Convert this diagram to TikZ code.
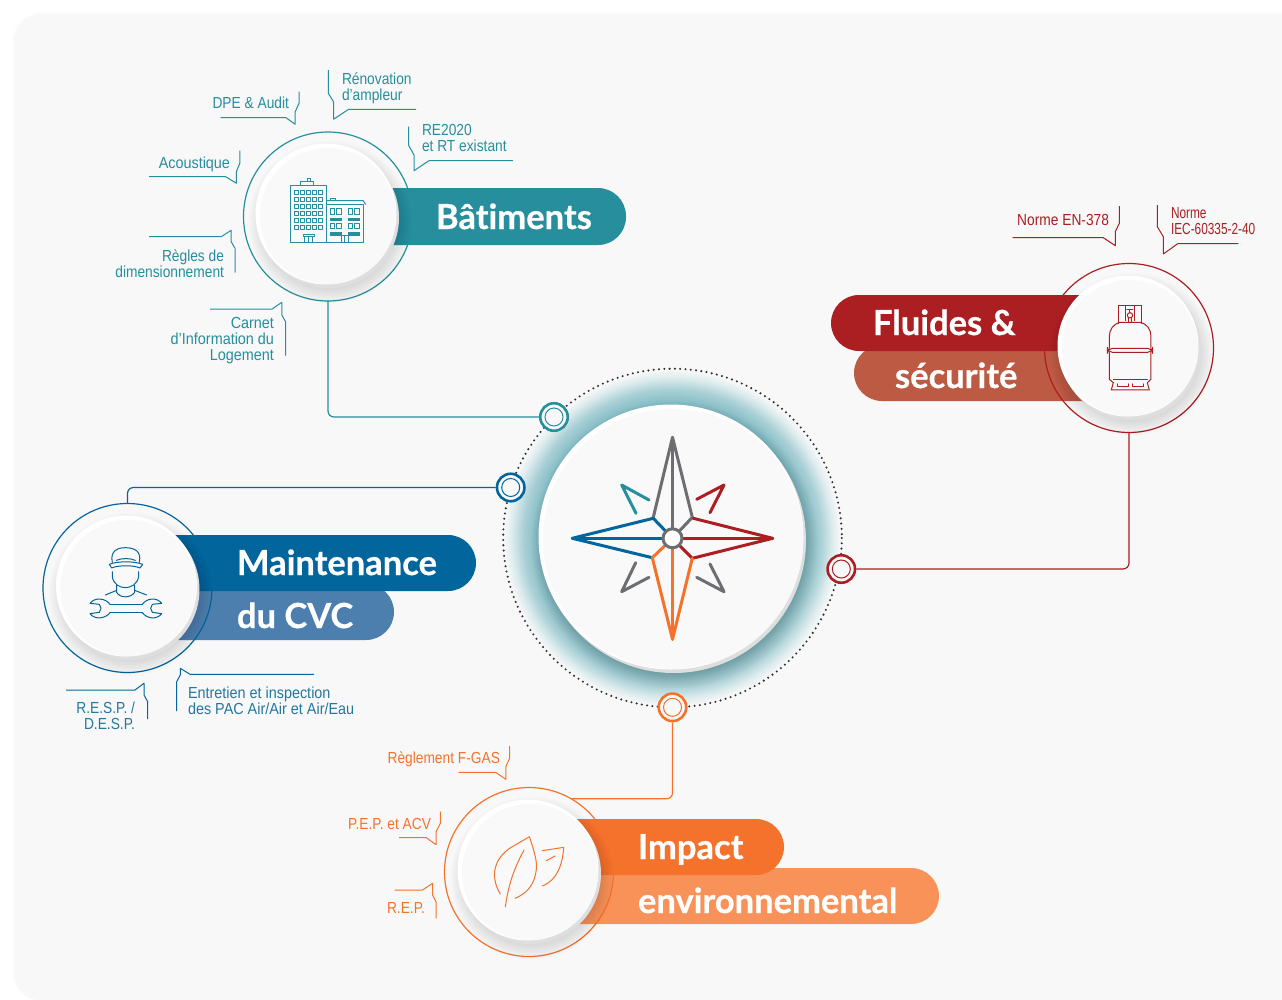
\documentclass[tikz,border=0pt]{standalone}
\usepackage{fontspec}
\setmainfont{Liberation Sans}
\newfontfamily\labfont[FakeStretch=0.86]{Liberation Sans}
\newfontfamily\labwide[FakeStretch=0.9]{Liberation Sans}
\newfontfamily\labtight[FakeStretch=0.74]{Liberation Sans}
\newfontfamily\headfont[BoldFeatures={FakeBold=0.6},Ligatures=NoCommon]{Lato}
\definecolor{pagebg}{HTML}{F8F8F8}
\definecolor{discbg}{HTML}{F9F9F9}
\definecolor{cteal}{HTML}{268E9D}
\definecolor{cred}{HTML}{AB1E22}
\definecolor{credl}{HTML}{BD5A44}
\definecolor{cblue}{HTML}{02659B}
\definecolor{cbluet}{HTML}{24779F}
\definecolor{cbluel}{HTML}{4D7FAE}
\definecolor{corange}{HTML}{F4722C}
\definecolor{corangel}{HTML}{F89259}
\definecolor{cgray}{HTML}{6D6E71}
\definecolor{glowa}{HTML}{7DB8C1}
\definecolor{glowb}{HTML}{A9D0D6}
\definecolor{glowc}{HTML}{DCEBED}
\pgfdeclareradialshading{hubglow}{\pgfpoint{0cm}{0cm}}{%
 color(0bp)=(glowa);color(19.6bp)=(glowa);color(22bp)=(glowb);color(23.7bp)=(glowc);color(24.9bp)=(pagebg);color(50bp)=(pagebg)}
\newcommand{\softdisc}[4]{%
 \foreach \i in {0,...,9}{\fill[black,opacity=0.012] ({#2+3},{#3+7}) circle ({#4+11-1.5*\i});}
 \fill[black!13] ({#2+1.5},{#3+2.5}) circle (#4);
 \fill[white] ({#2-1},{#3-1}) circle (#4);
 \node[discnode,minimum size={2*(#4)-5}] (#1) at ({#2+1},{#3+1}) {};
}
\tikzset{
 x=1pt,y=-1pt,
 discnode/.style={circle,fill=discbg,inner sep=0pt,outer sep=0pt},
 halo/.style={circle,draw=#1,line width=1.2pt,inner sep=0pt,outer sep=0pt,minimum size=169pt},
 hubring/.style={circle,draw=#1,fill=pagebg,line width=2.6pt,inner sep=0pt,outer sep=1.3pt,minimum size=27.5pt,
   path picture={\draw[#1,line width=1pt] (path picture bounding box.center) circle (9pt);}},
 link/.style={draw=#1,line width=1.2pt,rounded corners=6pt},
 callout/.style={draw=#1,line width=1pt,line join=round},
 lab/.style={font=\labfont\fontsize{16}{16}\selectfont,inner sep=0pt,outer sep=0pt,text=#1},
 labw/.style={font=\labwide\fontsize{16}{16}\selectfont,inner sep=0pt,outer sep=0pt,text=#1},
 labt/.style={font=\labtight\fontsize{16}{16}\selectfont,inner sep=0pt,outer sep=0pt,text=#1},
 head/.style={font=\headfont\bfseries\fontsize{34.5}{36}\selectfont,inner sep=0pt,outer sep=0pt,text=white,anchor=base west},
 rose/.style={draw=#1,line width=3pt,line join=round,line cap=round},
 icon/.style={draw=#1,line width=1pt,line join=round,line cap=round},
}
\begin{document}
\begin{tikzpicture}
\useasboundingbox (0,0) rectangle (1282,999);
% sheet
\fill[white] (0,0) rectangle (1282,999);
\fill[black!1.5,rounded corners=30pt] (12.5,12.5) rectangle (1320,1001);
\fill[pagebg,rounded corners=28pt] (14,14) rectangle (1320,1000);

% ---------- central hub
\shade[shading=hubglow] (672,538) circle (169);
\draw[cgray!45!black,line width=2.3pt,line cap=round,dash pattern=on 0pt off 5.3pt] (672.5,538) circle (169.3);
\softdisc{hubdisc}{672}{538}{132.5}

% compass
\draw[rose=cteal] (636,513.3) -- (621.7,485) -- (649,500);
\draw[rose=cred] (696.7,499.3) -- (724,485) -- (710,512.7);
\draw[rose=cgray] (635.7,562.7) -- (621.7,591.7) -- (649,577.3);
\draw[rose=cgray] (710,564) -- (724,591.7) -- (696.7,577.3);
\coordinate (rc) at (672.5,538.3);
\draw[rose=cgray] (rc) -- (672.5,437.3);
\draw[rose=cgray] (653.3,517.3) -- (672.5,437.3) -- (692.3,517.3) -- (rc);
\draw[rose=cblue] (rc) -- (572.3,538.3);
\draw[rose=cblue] (rc) -- (653.3,518.3) -- (572.3,538.3) -- (652.3,557.7);
\draw[rose=cred] (rc) -- (772.7,538.3);
\draw[rose=cred] (693.3,518.3) -- (772.7,538.3) -- (692.3,558.3) -- (rc);
\draw[rose=corange] (rc) -- (672.5,639.3);
\draw[rose=corange] (rc) -- (652.3,557.7) -- (672.5,639.3) -- (692.3,558.3);
\node[circle,draw=cgray,fill=white,line width=3pt,minimum size=19pt,inner sep=0pt] (rosehub) at (rc) {};

% hub rings
\node[hubring=cteal] (ringteal) at (554,417) {};
\node[hubring=cblue] (ringblue) at (510.7,487.5) {};
\node[hubring=cred] (ringred) at (841.3,569) {};
\node[hubring=corange] (ringorange) at (672.5,707.3) {};

% ---------- Batiments
\node[halo=cteal] (batring) at (328,216.5) {};
\fill[cteal,rounded corners=28pt] (327,188) rectangle (626,245);
\softdisc{batdisc}{327}{215}{70.5}
\node[head] (batlab) at (436,229) {Bâtiments};
\draw[link=cteal] (batring.south) |- (ringteal.west);

% ---------- Fluides
\fill[credl,rounded corners=28pt] (854,345) rectangle (1129,401);
\node[halo=cred] (fluring) at (1129,348) {};
\fill[cred,rounded corners=28pt] (831,295) rectangle (1129,351);
\softdisc{fludisc}{1129}{347}{70.5}
\node[head] (flulaba) at (873,335) {Fluides \&};
\node[head] (flulabb) at (895,388) {sécurité};
\draw[link=cred] (ringred.east) -| (fluring.south);

% ---------- Maintenance
\fill[cbluel,rounded corners=28pt] (127,584) rectangle (394,640);
\node[halo=cblue] (mairing) at (127.5,588) {};
\fill[cblue,rounded corners=28pt] (127,535) rectangle (476,591);
\softdisc{maidisc}{127.5}{587}{70.5}
\node[head] (mailaba) at (237,575) {Maintenance};
\node[head] (mailabb) at (237,628) {du CVC};
\draw[link=cblue] (mairing.north) |- (ringblue.west);

% ---------- Impact
\fill[corangel,rounded corners=28pt] (529,868) rectangle (939,924);
\node[halo=corange] (impring) at (529,872) {};
\fill[corange,rounded corners=28pt] (529,819) rectangle (784,875);
\softdisc{impdisc}{529}{871}{70.5}
\node[head] (implaba) at (638,859) {Impact};
\node[head] (implabb) at (638,913) {environnemental};
\draw[link=corange] (ringorange.south) |- (impring.60);

% ---------- callouts teal
\draw[callout=cteal] (220.5,117.7) -- (286,117.7) -- (295.2,124.3) -- (295.2,111.7) -- (299,103.3) -- (299,91.7);
\node[lab=cteal,anchor=base east] (tdpe) at (289,108.5) {DPE \& Audit};
\draw[callout=cteal] (328.3,70) -- (328.3,93.3) -- (333.5,101.7) -- (333.5,119.3) -- (348.6,109.3) -- (416,109.3);
\node[lab=cteal,anchor=west,align=left] (treno) at (342,88.5) {Rénovation\\d’ampleur};
\draw[callout=cteal] (408.5,126.7) -- (408.5,145) -- (414,155) -- (414,170.7) -- (428.9,160.7) -- (512.9,160.7);
\node[lab=cteal,anchor=west,align=left] (tre) at (422,138) {RE2020\\et RT existant};
\draw[callout=cteal] (149.2,176.7) -- (225.7,176.7) -- (236.4,183.3) -- (236.4,171.7) -- (239.8,163.3) -- (239.8,150.7);
\node[labw=cteal,anchor=base east] (taco) at (230,168.5) {Acoustique};
\draw[callout=cteal] (149.2,236.7) -- (221.2,236.7) -- (231.2,230.3) -- (231.2,241.7) -- (235,248.3) -- (235,272.7);
\node[lab=cteal,anchor=east,align=right] (tregl) at (224,264) {Règles de\\dimensionnement};
\draw[callout=cteal] (210.2,309) -- (272.2,309) -- (281.8,302.3) -- (281.8,315) -- (285.6,321.7) -- (285.6,355.7);
\node[labw=cteal,anchor=east,align=right] (tcar) at (274,341) {Carnet\\d’Information du\\Logement};

% callouts red
\draw[callout=cred] (1012.7,237.7) -- (1103.3,237.7) -- (1115.3,245.7) -- (1115.3,231.7) -- (1119.3,223.3) -- (1119.3,206);
\node[lab=cred,anchor=base east] (tnen) at (1109,225.5) {Norme EN-378};
\draw[callout=cred] (1157.3,205) -- (1157.3,226.7) -- (1163.3,236.7) -- (1163.3,254) -- (1177.7,243.7) -- (1238.3,243.7);
\node[labt=cred,anchor=west,align=left] (tiec) at (1171,221) {Norme\\IEC-60335-2-40};

% callouts blue
\draw[callout=cblue] (66,690) -- (135,690) -- (144,683.3) -- (144,695) -- (147.7,701.7) -- (147.7,719);
\node[lab=cbluet,anchor=east,align=right] (tresp) at (135,716) {R.E.S.P. /\\D.E.S.P.};
\draw[callout=cblue] (314,674.3) -- (190,674.3) -- (180.3,668.3) -- (180.3,675) -- (176.7,681.7) -- (176.7,711);
\node[labw=cbluet,anchor=west,align=left] (tent) at (188,701) {Entretien et inspection\\des PAC Air/Air et Air/Eau};

% callouts orange
\draw[callout=corange] (458.7,772.3) -- (495.6,772.3) -- (505.8,779.3) -- (505.8,766.7) -- (509.6,758.3) -- (509.6,746);
\node[lab=corange,anchor=base east] (tfg) at (500,763.5) {Règlement F-GAS};
\draw[callout=corange] (399,837.7) -- (426.4,837.7) -- (436,844.7) -- (436,831.7) -- (440.4,823.3) -- (440.4,811.7);
\node[lab=corange,anchor=base east] (tpep) at (431,829.5) {P.E.P. et ACV};
\draw[callout=corange] (394.5,890) -- (422.5,890) -- (432.6,883.3) -- (432.6,895) -- (436,901.7) -- (436,918.3);
\node[lab=corange,anchor=base east] (trep) at (425,913.5) {R.E.P.};

% ---------- building icon
\begin{scope}[icon=cteal]
\draw[icon=cteal] (290,185) rectangle (326.7,242.7);
\draw[icon=cteal] (300,181) rectangle (313.3,185);
\draw[icon=cteal] (307.7,178.3) rectangle (310.7,181);
\foreach \i in {0,...,4}\foreach \j in {0,...,5}
  \draw[cteal,line width=.9pt] ({294.3+6*\i},{190+7*\j}) rectangle ++(4,4.6);
\draw[icon=cteal] (303,234) rectangle (314,236.5);
\draw[icon=cteal] (304.5,236.5) rectangle (312.5,242.7);
\draw[icon=cteal] (308.5,236.5) -- (308.5,242.7);
\draw[icon=cteal] (326.7,204.3) -- (363.3,204.3) -- (363.3,242.7) -- (326.7,242.7);
\draw[icon=cteal] (326.7,200.5) -- (363,200.5) -- (365.7,204.3);
\draw[icon=cteal] (330,198) rectangle (335,200.5);
\foreach \a in {330,348}{
 \foreach \b in {208.5,223}{
  \draw[cteal,line width=.9pt] (\a,\b) rectangle ++(4.5,5.5);
  \draw[cteal,line width=.9pt] ({\a+6.5},\b) rectangle ++(4.5,5.5);
  \fill[cteal] (\a,{\b+9}) rectangle ++(11.5,3.5);
 }
}
\draw[icon=cteal] (341,235.5) rectangle (348,242.7);
\draw[icon=cteal] (344.5,235.5) -- (344.5,242.7);
\end{scope}

% ---------- tank icon
\begin{scope}[shift={(820,190)},x=0.3333pt,y=-0.3333pt]
\draw[icon=cred] (895,400) -- (895,347) -- (966,347) -- (966,400);
\draw[icon=cred] (917,347) -- (917,392);
\draw[icon=cred] (943,347) -- (943,392);
\draw[icon=cred] (921,358) -- (939,358) (930,358) -- (930,368);
\draw[icon=cred] (930,376) circle (8);
\draw[icon=cred] (925,384) -- (925,398) (935,384) -- (935,398);
\draw[icon=cred] (868,475) -- (868,440) .. controls (868,418) and (880,402) .. (900,397) -- (960,397) .. controls (982,402) and (993,418) .. (993,440) -- (993,475);
\draw[icon=cred,rounded corners=5pt] (862,475) rectangle (998,487);
\draw[icon=cred] (868,487) -- (868,568) -- (880,578) -- (874,600) -- (988,600) -- (982,578) -- (993,568) -- (993,487);
\draw[icon=cred] (880,568) -- (982,568);
\draw[icon=cred] (892,582) -- (892,590) -- (925,590) -- (925,582);
\draw[icon=cred] (938,582) -- (938,590) -- (972,590) -- (972,582);
\end{scope}

% ---------- worker icon
\begin{scope}[shift={(80,535)},x=0.3333pt,y=-0.3333pt]
\draw[icon=cblue] (97,82) .. controls (90,50) and (110,38) .. (136,38) .. controls (165,38) and (185,50) .. (178,82);
\draw[icon=cblue] (109,76) .. controls (125,69) and (150,69) .. (166,76);
\draw[icon=cblue] (88,88) .. controls (110,78) and (165,78) .. (188,88) -- (180,99) .. controls (160,90) and (115,90) .. (95,99) -- cycle;
\draw[icon=cblue] (97,110) -- (97,125) .. controls (100,148) and (120,158) .. (136,158) .. controls (152,158) and (172,148) .. (176,125) -- (176,110);
\draw[icon=cblue] (110,150) -- (110,172) .. controls (120,190) and (152,190) .. (164,172) -- (164,150);
\draw[icon=cblue] (76,180) -- (110,166) (164,166) -- (200,180);
\draw[icon=cblue] (90,208) -- (187,208) (90,233) -- (187,233);
\draw[icon=cblue] (90,208) .. controls (78,190) and (45,185) .. (30,205) -- (58,208) -- (63,220) -- (58,232) -- (30,236) .. controls (45,256) and (78,250) .. (90,233);
\draw[icon=cblue] (187,208) .. controls (199,190) and (230,185) .. (245,205) -- (217,208) -- (212,220) -- (217,232) -- (245,236) .. controls (230,256) and (199,250) .. (187,233);
\end{scope}

% ---------- leaves icon
\begin{scope}[shift={(340,730)},x=0.3891pt,y=-0.3333pt]
\draw[icon=corange] (412,492) .. controls (385,440) and (395,385) .. (440,352) -- (487,320) .. controls (497,360) and (510,395) .. (503,430) .. controls (497,470) and (475,493) .. (450,505);
\draw[icon=corange] (425,530) .. controls (432,470) and (445,420) .. (473,360);
\draw[icon=corange] (520,362) -- (575,352) .. controls (572,400) and (560,450) .. (520,468);
\draw[icon=corange] (530,392) -- (553,378);
\end{scope}
\end{tikzpicture}
\end{document}
